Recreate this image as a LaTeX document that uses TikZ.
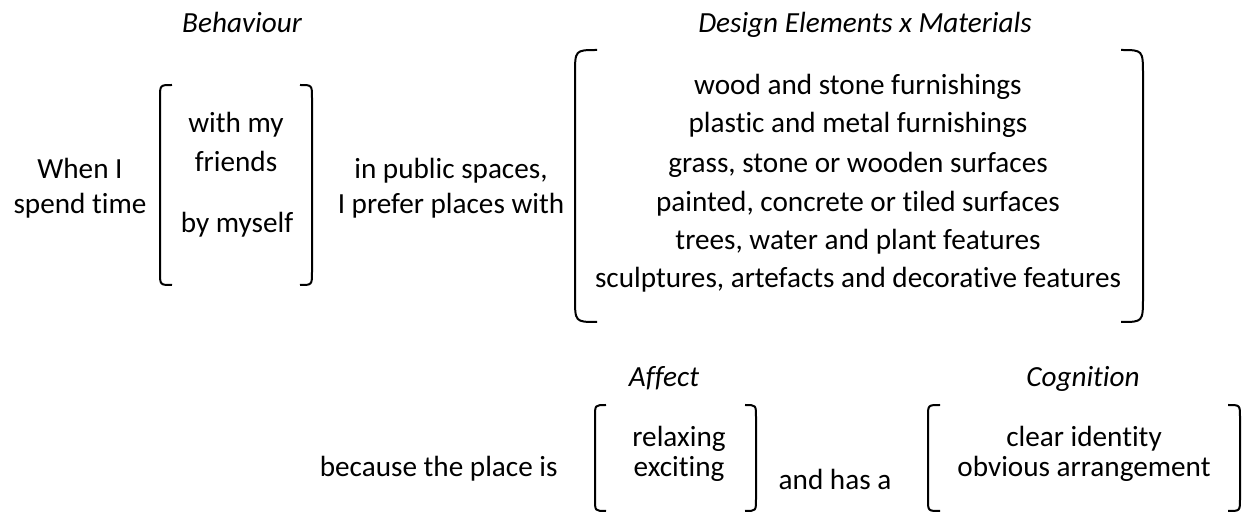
\documentclass[tikz,border=0pt]{standalone}
\usepackage{fontspec}
\setmainfont{Carlito}[Ligatures=NoCommon]

\begin{document}
\begin{tikzpicture}[x=0.5pt,y=-0.5pt,
  every node/.style={font=\fontsize{14.6}{17.5}\selectfont, anchor=base, inner sep=0pt},
  heading/.style={font=\fontsize{14.6}{17.5}\selectfont\itshape},
  paren/.style={black, line width=1pt}]
\useasboundingbox (0,0) rectangle (1250,513);
% headings
\node [heading] (behav) at (242,33) {Behaviour};
\node [heading] (design) at (865,33) {Design Elements x Materials};
\node [heading] (affect) at (664,387) {Affect};
\node [heading] (cogn) at (1083,387) {Cognition};
% first sentence
\node (when) at (80,179) {When I};
\node (spend) at (80,214) {spend time};
\draw[paren] (172,85) .. controls (160,85) .. (160,98) -- (160,272) .. controls (160,285) .. (172,285);
\draw[paren] (300,85) .. controls (312,85) .. (312,98) -- (312,272) .. controls (312,285) .. (300,285);
\node (withmy) at (236,133) {with my};
\node (friends) at (236,172) {friends};
\node (myself) at (237,233) {by myself};
\node (public) at (451,179) {in public spaces,};
\node (prefer) at (451,214) {I prefer places with};
% design elements
\draw[paren] (597,50) .. controls (575,50) .. (575,75) -- (575,297) .. controls (575,322) .. (597,322);
\draw[paren] (1121,50) .. controls (1143,50) .. (1143,75) -- (1143,297) .. controls (1143,322) .. (1121,322);
\node (wood) at (858,95) {wood and stone furnishings};
\node (plastic) at (858,133) {plastic and metal furnishings};
\node (grass) at (858,173) {grass, stone or wooden surfaces};
\node (painted) at (858,212) {painted, concrete or tiled surfaces};
\node (trees) at (858,250) {trees, water and plant features};
\node (sculpt) at (858,288) {sculptures, artefacts and decorative features};
% second sentence
\node [anchor=base east] (because) at (558,477) {because the place is};
\draw[paren] (606,405) .. controls (595,405) .. (595,417) -- (595,499) .. controls (595,511) .. (606,511);
\draw[paren] (745,405) .. controls (756,405) .. (756,417) -- (756,499) .. controls (756,511) .. (745,511);
\node (relax) at (679,447) {relaxing};
\node (excite) at (679,477) {exciting};
\node (hasa) at (835,490) {and has a};
\draw[paren] (940,405) .. controls (928,405) .. (928,417) -- (928,499) .. controls (928,511) .. (940,511);
\draw[paren] (1228,405) .. controls (1240,405) .. (1240,417) -- (1240,499) .. controls (1240,511) .. (1228,511);
\node (ident) at (1084,447) {clear identity};
\node (arrange) at (1084,477) {obvious arrangement};
\end{tikzpicture}
\end{document}
